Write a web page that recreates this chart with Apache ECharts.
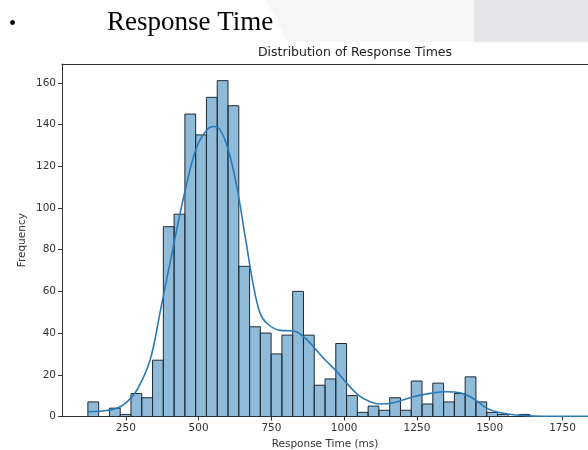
<!DOCTYPE html>
<html>
<head>
<meta charset="utf-8">
<script src="https://cdn.jsdelivr.net/npm/echarts@6/dist/echarts.min.js"></script>
<style>
html,body{margin:0;padding:0;background:#fff;}
#c{width:588px;height:450px;}
</style>
</head>
<body>
<div id="c"></div>
<script>
// ---- data ----
const binStart = 119.5;     // left edge of first bin (ms)
const binWidth = 37.03;     // bin width (ms)
const counts = [7,0,4,1,11,9,27,91,97,145,135,153,161,149,72,43,40,30,39,60,39,15,18,35,10,2,5,3,9,3,17,6,16,7,11,19,7,2,1,0,1,0,0,0,0,0,0,1];
const kdeX = [119.5,159,219,254,288,333,369,413,454,494,528,551,574,602,631,660,688,711,734,780,826,860,894,935,975,1009,1049,1089,1124,1169,1238,1295,1353,1398,1433,1467,1490,1536,1593,1649,1700,1750,1800,1850,1897];
const kdeY = [2.3,2.5,3.9,7,12.7,27,51,81.4,108.6,129.4,137.4,139,137.4,127.8,110.2,86.2,63,49.6,44.7,41.3,41,38.3,33.5,27.1,21.5,15.9,10.3,7.1,6,6.6,9.5,11.1,11.9,11.4,9.5,6.3,3.9,1.8,0.7,0.2,0.1,0.05,0.05,0.08,0.05];
const xTicks = [250,500,750,1000,1250,1500,1750];
const yTicks = [0,20,40,60,80,100,120,140,160];
const xMin = 30.6, xMax = 1837.6, yMax = 169;

const histData = counts.map((c,i)=>[binStart+i*binWidth, binStart+(i+1)*binWidth, c]);
const kdeData = kdeX.map((x,i)=>[x,kdeY[i]]);

const chart = echarts.init(document.getElementById('c'), null, {renderer:'canvas'});
const tickFont = {fontFamily:'DejaVu Sans', fontSize:10.5, color:'#333'};
chart.setOption({
  animation:false,
  backgroundColor:'#ffffff',
  graphic:[
    {type:'polygon', shape:{points:[[266,0],[588,0],[588,42],[287,42]]}, style:{fill:'#f6f6f6'}, z:-10},
    {type:'rect', shape:{x:474,y:0,width:114,height:42}, style:{fill:'#e6e6e8'}, z:-9},
    {type:'text', x:9, y:25, style:{text:'•', font:'20px "Liberation Serif"', fill:'#000', verticalAlign:'middle'}},
    {type:'text', x:107, y:22.5, style:{text:'Response Time', font:'27px "Liberation Serif"', fill:'#000', verticalAlign:'middle'}},
    {type:'text', x:355, y:53, style:{text:'Distribution of Response Times', font:'12.5px "DejaVu Sans"', fill:'#222', align:'center', verticalAlign:'middle'}}
  ],
  grid:{left:62, top:64, width:526, height:352.5, containLabel:false, outerBoundsMode:'none'},
  xAxis:[{
    type:'value', min:xMin, max:xMax,
    name:'Response Time (ms)', nameLocation:'middle', nameGap:22,
    nameTextStyle:{fontFamily:'DejaVu Sans', fontSize:10.5, color:'#333'},
    axisLine:{show:true, lineStyle:{color:'#333', width:1}},
    axisTick:{show:true, length:4, lineStyle:{color:'#333'}, customValues:xTicks},
    axisLabel:{...tickFont, margin:6, customValues:xTicks, formatter:function(v){return String(v);}},
    splitLine:{show:false}
  },{
    type:'value', min:xMin, max:xMax, position:'top',
    axisLine:{show:true, lineStyle:{color:'#333', width:1}},
    axisTick:{show:false}, axisLabel:{show:false}, splitLine:{show:false}
  }],
  yAxis:{
    type:'value', min:0, max:yMax,
    name:'Frequency', nameLocation:'middle', nameGap:34, nameRotate:90, nameMoveOverlap:false,
    nameTextStyle:{fontFamily:'DejaVu Sans', fontSize:10.5, color:'#333'},
    axisLine:{show:true, lineStyle:{color:'#333', width:1}},
    axisTick:{show:true, length:4, lineStyle:{color:'#333'}, customValues:yTicks},
    axisLabel:{...tickFont, margin:6, customValues:yTicks, formatter:function(v){return String(v);}},
    splitLine:{show:false}
  },
  series:[{
    type:'custom',
    data:histData,
    encode:{x:[0,1], y:2},
    clip:true,
    renderItem:function(params, api){
      const p0 = api.coord([api.value(0), api.value(2)]);
      const p1 = api.coord([api.value(1), 0]);
      return {type:'rect', shape:{x:p0[0], y:p0[1], width:p1[0]-p0[0], height:p1[1]-p0[1]},
        style:{fill:'rgba(31,119,180,0.5)', stroke:'#1f2a33', lineWidth:1}};
    },
    z:2
  },{
    type:'line', data:kdeData, smooth:0.4, showSymbol:false, clip:true,
    lineStyle:{color:'#2a7ab8', width:1.6}, z:3
  }]
});
</script>
</body>
</html>
